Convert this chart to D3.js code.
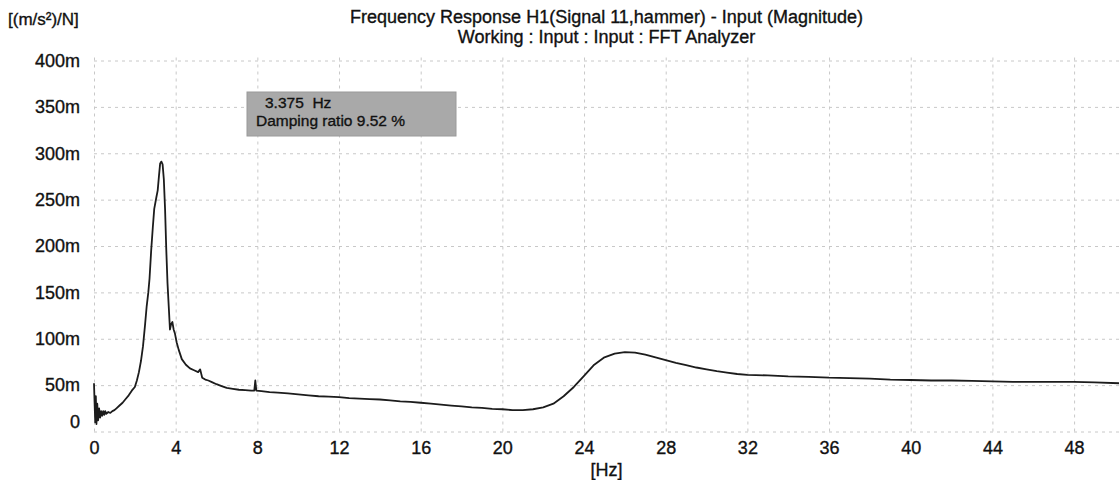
<!DOCTYPE html>
<html>
<head>
<meta charset="utf-8">
<script src="https://cdn.jsdelivr.net/npm/d3@7"></script>
<style>
  body { margin: 0; background: #fff; }
  svg { display: block; font-family: "Liberation Sans", Arial, sans-serif; }
  svg text { stroke: #111; stroke-width: 0.35px; white-space: pre; }
  .grid line { stroke: #c8c8c8; stroke-dasharray: 3,4; }
  .grid path { display: none; }
</style>
</head>
<body>
<div id="container"></div>
<script>
// frequency response magnitude (x in Hz, y in m(m/s²)/N)
var freq = [0.00, 0.03, 0.06, 0.09, 0.12, 0.16, 0.20, 0.25, 0.30, 0.35, 0.40, 0.45, 0.50, 0.55, 0.60, 0.70, 0.80, 0.90,
  1.00, 1.10, 1.25, 1.40, 1.55, 1.70, 1.85, 2.00, 2.10, 2.20, 2.30, 2.40, 2.50, 2.58, 2.66, 2.72, 2.80, 2.88, 2.95,
  3.05, 3.12, 3.18, 3.24, 3.30, 3.36, 3.42, 3.48, 3.54, 3.60, 3.66, 3.72, 3.78, 3.84, 3.90, 3.96, 4.05, 4.15, 4.30,
  4.50, 4.70, 4.90, 5.10, 5.20, 5.30, 5.45, 5.60, 5.80, 6.00, 6.25, 6.50, 6.80, 7.10, 7.40, 7.70, 7.85, 7.90, 7.95,
  8.20, 8.60, 9.00, 9.50, 10.0, 10.5, 11.0, 11.5, 12.0, 12.5, 13.0, 13.5, 14.0, 14.5, 15.0, 15.5, 16.0, 16.5, 17.0,
  17.5, 18.0, 18.5, 19.0, 19.5, 20.0, 20.5, 21.0, 21.5, 22.0, 22.5, 23.0, 23.5, 24.0, 24.5, 25.0, 25.5, 26.0, 26.5,
  27.0, 27.5, 28.0, 28.5, 29.0, 29.5, 30.0, 30.5, 31.0, 31.5, 32.0, 33.0, 34.0, 35.0, 36.0, 37.0, 38.0, 39.0, 40.0,
  41.0, 42.0, 43.0, 44.0, 45.0, 46.0, 47.0, 48.0, 49.0, 50.2];
var mag = [52, 30, 10, 38, 8, 30, 12, 25, 15, 22, 17, 22, 18, 22, 19, 21, 20, 22,
  23, 25, 28, 31, 35, 39, 44, 48, 55, 64, 76, 92, 115, 135, 150, 165, 195, 220, 240,
  252, 260, 275, 289, 291, 288, 272, 240, 196, 160, 135, 110, 116, 118, 110, 106, 96, 88, 78,
  72, 68, 66, 64, 67, 58, 56, 55, 53, 51, 49, 47, 46, 45, 44.5, 44, 44, 55, 44,
  43.5, 42.5, 42, 41, 40, 39, 38, 37.5, 37, 36, 35.5, 35, 34.5, 33.5, 32.5, 32, 31, 30, 29,
  28, 27, 26, 25.5, 24.5, 24, 23, 23, 24, 26, 30, 38, 48, 60, 72, 80, 84, 85.5, 85,
  83, 80, 77, 74, 71.5, 69, 67, 65, 63.5, 62, 61, 60.5, 59.5, 59, 58, 57.5, 57, 56, 55.5,
  55, 55, 54.5, 54, 53.5, 53.5, 53.5, 53.5, 53, 52];

var xTicks = [0, 4, 8, 12, 16, 20, 24, 28, 32, 36, 40, 44, 48];
var yTicks = [0, 50, 100, 150, 200, 250, 300, 350, 400];
var yTickLabels = ["0", "50m", "100m", "150m", "200m", "250m", "300m", "350m", "400m"];

var title = "Frequency Response H1(Signal 11,hammer) - Input (Magnitude)";
var subtitle = "Working : Input : Input : FFT Analyzer";
var unitLabel = "[(m/s²)/N]";
var xLabel = "[Hz]";
var cursorText = ["3.375  Hz", "Damping ratio 9.52 %"];

var width = 1119, height = 480;
var plotLeft = 94, plotTop = 60.5, plotBottom = 431.5;

var svg = d3.select("#container").append("svg")
    .attr("width", width)
    .attr("height", height);

var x = d3.scaleLinear().domain([0, 50.2]).range([plotLeft, width]);
var y = d3.scaleLinear().domain([0, 400]).range([plotBottom, plotTop]);

// grid
svg.append("g")
    .attr("class", "grid")
    .attr("transform", "translate(0," + plotBottom + ")")
    .call(d3.axisBottom(x).tickValues(xTicks).tickSize(-(plotBottom - plotTop + 3)).tickFormat(""));
svg.append("g")
    .attr("class", "grid")
    .attr("transform", "translate(" + plotLeft + ",0)")
    .call(d3.axisLeft(y).tickValues(yTicks).tickSize(-(width - plotLeft)).tickFormat(""));

// tick labels
var xAxis = svg.append("g")
    .attr("transform", "translate(0," + plotBottom + ")")
    .call(d3.axisBottom(x).tickValues(xTicks).tickSize(0).tickPadding(10).tickFormat(d3.format("d")));
xAxis.select(".domain").remove();
xAxis.selectAll("text").attr("font-size", 18).attr("font-family", null).attr("fill", "#111");

var yAxis = svg.append("g")
    .attr("transform", "translate(80,0)")
    .call(d3.axisLeft(y).tickValues(yTicks).tickSize(0).tickPadding(0)
      .tickFormat(function(d, i) { return yTickLabels[i]; }));
yAxis.select(".domain").remove();
yAxis.selectAll("text").attr("font-size", 18).attr("font-family", null).attr("fill", "#111");
// the zero label sits a bit above its grid line
yAxis.selectAll(".tick").filter(function(d) { return d === 0; })
    .select("text").attr("dy", "-0.25em");

// curve
var line = d3.line()
    .x(function(d, i) { return x(freq[i]); })
    .y(function(d) { return y(d); });
svg.append("path")
    .datum(mag)
    .attr("d", line)
    .attr("fill", "none")
    .attr("stroke", "#1c1c1c")
    .attr("stroke-width", 1.8)
    .attr("stroke-linejoin", "round");

// titles
var cx = (plotLeft + width) / 2;
svg.append("text").attr("x", cx).attr("y", 23).attr("text-anchor", "middle")
    .attr("font-size", 18).attr("fill", "#111").text(title);
svg.append("text").attr("x", cx).attr("y", 43).attr("text-anchor", "middle")
    .attr("font-size", 18).attr("fill", "#111").text(subtitle);
svg.append("text").attr("x", 8).attr("y", 25)
    .attr("font-size", 17).attr("fill", "#111").text(unitLabel);
svg.append("text").attr("x", cx).attr("y", 476).attr("text-anchor", "middle")
    .attr("font-size", 18).attr("fill", "#111").text(xLabel);

// cursor readout box
var box = svg.append("g").attr("transform", "translate(247,92)");
box.append("rect").attr("width", 209).attr("height", 44)
    .attr("fill", "#a9a9a9").attr("stroke", "#9a9a9a");
box.append("text").attr("x", 18).attr("y", 16).attr("font-size", 15.5).attr("fill", "#111").text(cursorText[0]);
box.append("text").attr("x", 9).attr("y", 34).attr("font-size", 15.5).attr("fill", "#111").text(cursorText[1]);
</script>
</body>
</html>
